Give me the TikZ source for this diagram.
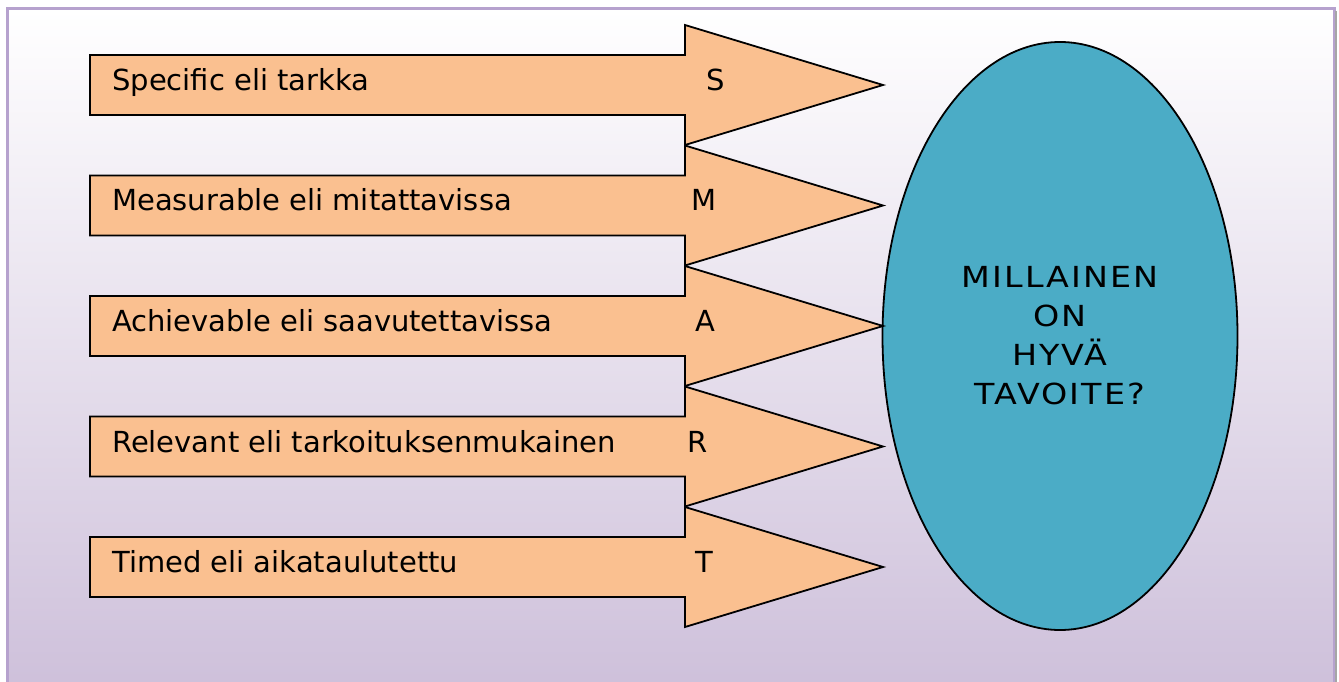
\documentclass[tikz,border=0pt]{standalone}
\usepackage{fontspec}
\setmainfont{DejaVu Sans}
\usepackage{tikz}
\usetikzlibrary{shapes.geometric}
\definecolor{arroworange}{RGB}{250,192,144}
\definecolor{goalteal}{RGB}{75,172,198}
\definecolor{framelilac}{RGB}{182,162,206}
\definecolor{bglilac}{RGB}{205,191,218}

\begin{document}
\begin{tikzpicture}[x=1pt, y=-1pt,
  arrowshape/.style={draw=black, line width=1.8pt, fill=arroworange, line join=miter},
  itemtext/.style={anchor=base west, inner sep=0pt, font=\fontsize{29}{39}\selectfont},
  smartletter/.style={anchor=base, inner sep=0pt, font=\fontsize{29}{39}\selectfont},
  goal/.style={ellipse, draw=black, line width=1.8pt, fill=goalteal,
  minimum width=355pt, minimum height=588pt, align=center,
  font=\fontsize{29}{39}\selectfont\addfontfeatures{FakeStretch=1.15,LetterSpace=7}}]
  \useasboundingbox (0,0) rectangle (1339,682);
  \shade[top color=white, bottom color=bglilac] (7,9) rectangle (1334,700);
  \draw[framelilac, line width=3pt] (7,700) -- (7,9) -- (1334,9) -- (1334,700);
  \draw[black!35, line width=1.2pt] (1336,11) -- (1336,700);
  \node[goal] (question) at (1060,336) {MILLAINEN\\ON\\HYVÄ\\TAVOITE?};
  % SMART arrows
  \foreach \c in {85,205.5,326,446.5,567}{
    \draw[arrowshape] (90,\c-30) -- (685,\c-30) -- (685,\c-60) -- (883,\c)
      -- (685,\c+60) -- (685,\c+30) -- (90,\c+30) -- cycle;
  }
  \node[itemtext] (specific) at (112,90.5) {Specific eli tarkka};
  \node[itemtext] (measurable) at (112,211) {Measurable eli mitattavissa};
  \node[itemtext] (achievable) at (112,331.5) {Achievable eli saavutettavissa};
  \node[itemtext] (relevant) at (112,452) {Relevant eli tarkoituksenmukainen};
  \node[itemtext] (timed) at (112,572.5) {Timed eli aikataulutettu};
  \node[smartletter] (S) at (716,90.5) {S};
  \node[smartletter] (M) at (704.5,211) {M};
  \node[smartletter] (A) at (705.5,331.5) {A};
  \node[smartletter] (R) at (698,452) {R};
  \node[smartletter] (T) at (704,572.5) {T};
\end{tikzpicture}
\end{document}
